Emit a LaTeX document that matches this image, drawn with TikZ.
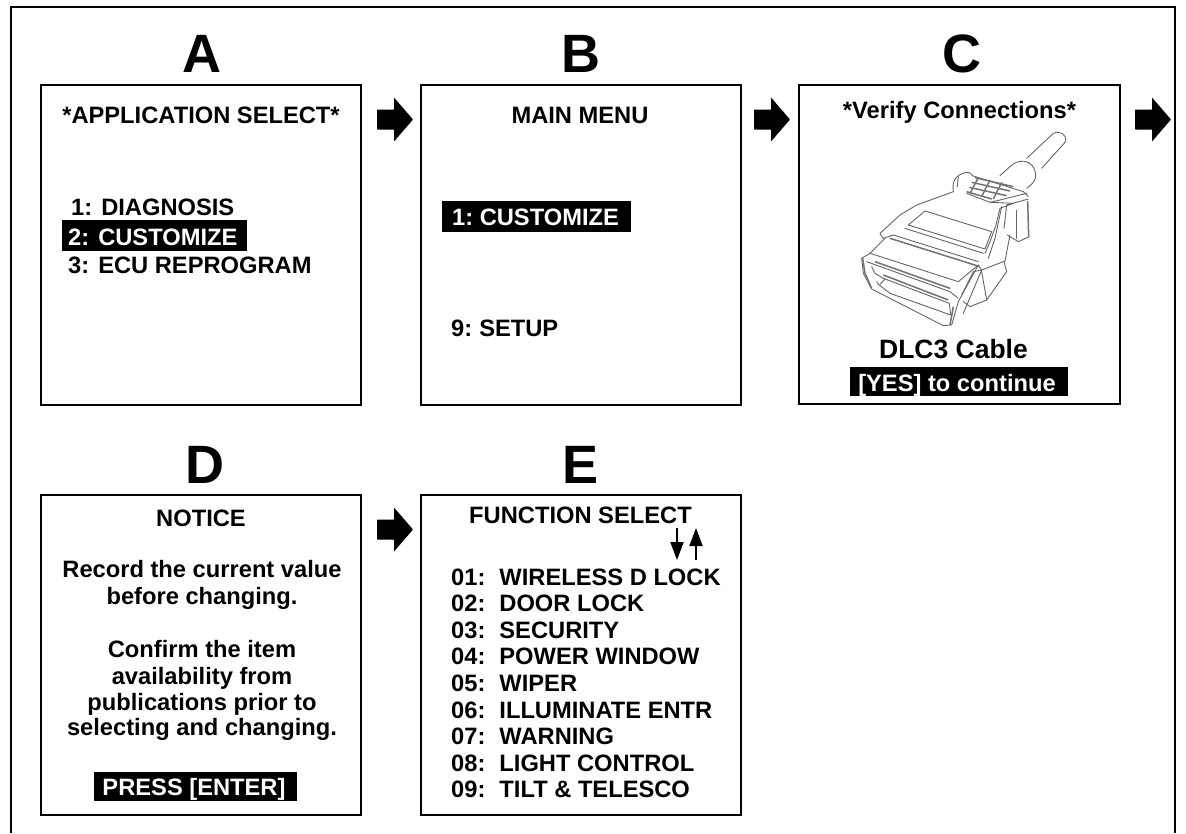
\documentclass[tikz,border=0pt]{standalone}
\usepackage{fontspec}
\setmainfont{Liberation Sans}
\usetikzlibrary{arrows.meta}
\tikzset{
  x=1pt,y=-1pt,
  frame/.style={draw=black,line width=2pt,fill=white},
  letter/.style={font=\fontsize{54}{54}\selectfont\bfseries,anchor=base,inner sep=0pt},
  txt/.style={font=\fontsize{23.7}{24}\selectfont\bfseries,anchor=base west,inner sep=0pt},
  ctxt/.style={font=\fontsize{23.7}{24}\selectfont\bfseries,anchor=base,inner sep=0pt},
  bar/.style={fill=black,draw=none},
  inv/.style={txt,text=white},
  invc/.style={ctxt,text=white},
  blockarrow/.style={fill=black,draw=none,rounded corners=0.5pt},
  thin arrow/.style={line width=2pt,-{Triangle[length=18pt,width=13pt]}},
  wire/.style={line width=0.9pt,draw=black!60,line join=round,line cap=round},
  hatch/.style={line width=1.5pt,draw=black!55},
}
\newcommand{\bigarrow}[3]{%
  \fill[blockarrow] (#1,#2) ++(-1,-10) coordinate (#3) -- ++(17,0) -- ++(0,-12) -- ++(19,22) -- ++(-19,22) -- ++(0,-12) -- ++(-17,0) -- cycle;}
\begin{document}
\begin{tikzpicture}
\useasboundingbox (0,0) rectangle (1186,833);
\draw[line width=2pt] (11,833) |- (1175,7) -- (1175,833);
\draw[frame] (41,85) rectangle (361,405);
\draw[frame] (421,85) rectangle (741,405);
\draw[frame] (799,85) rectangle (1120,404);
\draw[frame] (41,495) rectangle (361,815);
\draw[frame] (421,495) rectangle (741,815);
\node[letter] (la) at (202,72) {A};
\node[letter] (lb) at (581,72) {B};
\node[letter] (lc) at (962,72) {C};
\node[letter] (ld) at (205,483) {D};
\node[letter] (le) at (581,483) {E};
\bigarrow{378}{119.5}{a1}
\bigarrow{755}{119.5}{a2}
\bigarrow{1136}{119.5}{a3}
\bigarrow{378}{529.5}{a4}
% A
\node[ctxt] (ta) at (201,123) {*APPLICATION SELECT*};
\node[txt] (a1) at (71,215) {1:\hspace{9pt}DIAGNOSIS};
\fill[bar] (62,220) rectangle (247,251);
\node[inv] (a2t) at (68,245) {2:\hspace{9pt}CUSTOMIZE};
\node[txt] (a3t) at (68,273) {3:\hspace{9pt}ECU REPROGRAM};
% B
\node[ctxt] (tb) at (580,123) {MAIN MENU};
\fill[bar] (442,201) rectangle (631,232);
\node[inv] (b1) at (452,225) {1:\hspace{6.5pt}CUSTOMIZE};
\node[txt] (b9) at (451,336) {9:\hspace{7pt}SETUP};
% C
\node[ctxt] (tc) at (959.5,118) {*Verify Connections*};
\begin{scope}[shift={(850,125)},x=0.33333pt,y=-0.33333pt]
\begin{scope}[wire]
\draw (610,25) -- (530,100);
\draw (645,52) -- (575,130);
\draw (610,25) .. controls (630,15) and (655,30) .. (645,52);
\draw (450,152) -- (480,125) .. controls (505,100) and (540,105) .. (552,130) .. controls (565,160) and (550,175) .. (530,190);
\draw (310,200) .. controls (305,165) and (320,150) .. (345,143) .. controls (355,140) and (365,145) .. (367,152);
\draw (325,155) -- (322,185);
\draw (367,152) -- (520,200) -- (535,215);
\draw (310,200) -- (200,240) -- (150,270) -- (90,325) -- (100,340);
\draw (350,205) -- (420,232) -- (450,225) -- (530,205);
\draw (420,232) -- (490,235) -- (450,250) -- (438,300) -- (420,350) -- (405,385);
\draw (455,245) -- (435,340) -- (415,400);
\draw (470,240) -- (535,222);
\draw (538,335) -- (505,350) -- (472,330);
\draw (470,240) -- (462,310);
\draw (500,255) -- (500,340);
\draw (225,258) -- (425,320);
\draw (175,300) -- (225,258);
\draw (175,300) -- (405,372) -- (425,320);
\draw (100,340) -- (130,330) -- (385,410);
\draw (165,310) -- (400,385);
\draw (105,340) -- (60,385) -- (35,400);
\draw (35,400) -- (40,445) -- (65,492) -- (280,602) -- (305,600) -- (325,530) -- (385,420) -- (395,435);
\draw (60,385) -- (325,470) -- (385,420);
\draw (50,410) -- (300,500) -- (325,520);
\draw (65,425) -- (75,445) -- (100,460) -- (298,535) -- (302,570) -- (120,505) -- (85,478) -- (80,470);
\draw (105,462) -- (90,478);
\draw (335,510) -- (370,440) -- (395,435);
\draw (395,435) -- (465,408) -- (480,330);
\draw (395,440) -- (410,525) -- (360,545) -- (340,530);
\draw (410,525) -- (470,440) -- (462,410);
\draw (395,435) -- (340,565);
\end{scope}
\begin{scope}[hatch]
\draw (375,158) -- (490,185);
\draw (365,172) -- (480,198);
\draw (358,187) -- (470,212);
\draw (350,200) -- (425,222);
\draw (385,158) -- (360,205);
\draw (420,165) -- (395,215);
\draw (455,172) -- (430,222);
\draw (533,228) -- (536,335);
\draw (38,400) -- (45,445) -- (65,490);
\draw (75,410) -- (300,490);
\draw (100,450) -- (295,525);
\draw (120,340) -- (390,425);
\draw (310,545) -- (300,600);
\end{scope}
\end{scope}
\node[font=\fontsize{26.5}{27}\selectfont\bfseries,anchor=base,inner sep=0pt] (cc) at (953.5,358) {DLC3 Cable};
\fill[bar] (850,367) rectangle (1068,396);
\node[invc] (cy) at (957,391) {[YES] to continue};
% D
\node[ctxt] (td) at (201,526) {NOTICE};
\node[ctxt] (d1) at (202,577) {Record the current value};
\node[ctxt] (d2) at (202,604) {before changing.};
\node[ctxt] (d3) at (202,657) {Confirm the item};
\node[ctxt] (d4) at (202,684) {availability from};
\node[ctxt] (d5) at (202,710) {publications prior to};
\node[ctxt] (d6) at (202,735) {selecting and changing.};
\fill[bar] (94,772) rectangle (297,801);
\node[invc] (dp) at (194,795) {PRESS [ENTER]};
% E
\node[ctxt] (te) at (580.5,523) {FUNCTION SELECT};
\coordinate (dn1) at (677,528);
\coordinate (dn2) at (677,560);
\coordinate (up1) at (696,560);
\coordinate (up2) at (696,528);
\draw[thin arrow] (dn1) -- (dn2);
\draw[thin arrow] (up1) -- (up2);
\foreach \n/\yy/\tt in {e1/585/01:\hspace{14pt}WIRELESS D LOCK,e2/611/02:\hspace{14pt}DOOR LOCK,e3/638/03:\hspace{14pt}SECURITY,e4/664/04:\hspace{14pt}POWER WINDOW,e5/691/05:\hspace{14pt}WIPER,e6/718/06:\hspace{14pt}ILLUMINATE ENTR,e7/744/07:\hspace{14pt}WARNING,e8/771/08:\hspace{14pt}LIGHT CONTROL,e9/797/09:\hspace{14pt}TILT \& TELESCO}
  \node[txt] (\n) at (451,\yy) {\tt};
\end{tikzpicture}
\end{document}
